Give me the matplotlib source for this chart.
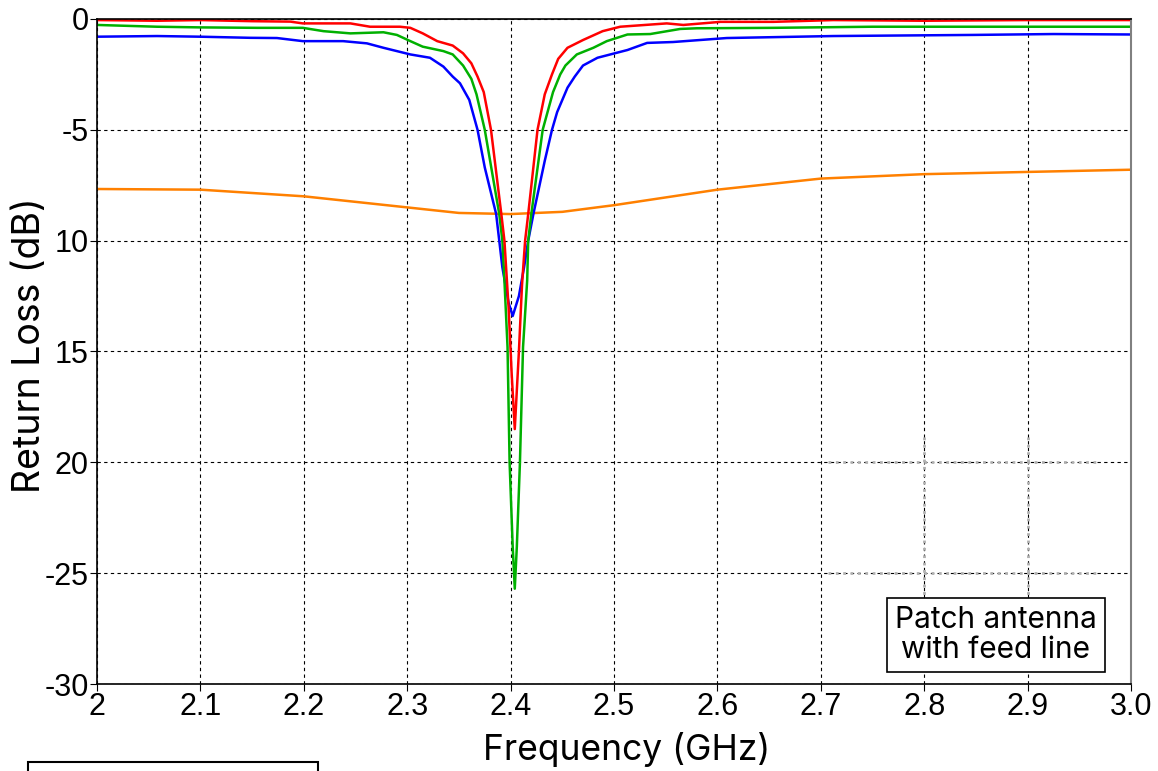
import matplotlib
matplotlib.use("Agg")
import matplotlib.pyplot as plt
from matplotlib.patches import Rectangle

plt.rcParams['font.family'] = ['Liberation Sans', 'DejaVu Sans']

# Return loss curves (GHz, dB)
red_f = [2.0, 2.058, 2.10, 2.15, 2.187, 2.199, 2.245, 2.264, 2.293, 2.303, 2.315, 2.329,
         2.344, 2.354, 2.362, 2.368, 2.374, 2.381, 2.391, 2.394, 2.398, 2.401, 2.404,
         2.408, 2.411, 2.414, 2.417, 2.426, 2.433, 2.440, 2.446, 2.455, 2.470, 2.489,
         2.506, 2.551, 2.567, 2.603, 2.654, 2.712, 2.8, 2.9, 3.0]
red_db = [-0.05, -0.08, -0.05, -0.1, -0.12, -0.2, -0.2, -0.35, -0.35, -0.4, -0.65, -1.0,
          -1.2, -1.55, -2.0, -2.6, -3.3, -5.0, -8.8, -10.0, -13.0, -16.0, -18.5,
          -15.0, -12.0, -10.0, -8.8, -5.0, -3.4, -2.5, -1.8, -1.3, -0.95, -0.55,
          -0.35, -0.2, -0.27, -0.13, -0.13, -0.05, -0.08, -0.05, -0.05]

green_f = [2.0, 2.058, 2.10, 2.155, 2.199, 2.219, 2.245, 2.277, 2.290, 2.303, 2.315, 2.335,
           2.344, 2.354, 2.362, 2.367, 2.375, 2.389, 2.392, 2.394, 2.397, 2.399, 2.402,
           2.404, 2.406, 2.409, 2.412, 2.416, 2.417, 2.420, 2.431, 2.441, 2.448, 2.453,
           2.464, 2.480, 2.493, 2.513, 2.535, 2.564, 2.580, 2.654, 2.750, 3.0]
green_db = [-0.27, -0.35, -0.38, -0.4, -0.4, -0.55, -0.65, -0.6, -0.72, -1.0, -1.25, -1.45,
            -1.6, -2.1, -2.7, -3.4, -5.0, -8.8, -10.0, -11.8, -14.8, -20.0, -23.8,
            -25.7, -23.8, -20.0, -14.8, -11.8, -10.0, -8.8, -5.0, -3.3, -2.5, -2.1,
            -1.6, -1.3, -1.0, -0.7, -0.68, -0.45, -0.42, -0.4, -0.35, -0.35]

blue_f = [2.0, 2.058, 2.10, 2.148, 2.174, 2.199, 2.238, 2.261, 2.277, 2.303, 2.322, 2.335,
          2.344, 2.351, 2.360, 2.368, 2.375, 2.386, 2.389, 2.392, 2.398, 2.402, 2.408,
          2.413, 2.417, 2.422, 2.433, 2.440, 2.445, 2.455, 2.462, 2.470, 2.484, 2.513,
          2.532, 2.557, 2.609, 2.712, 2.847, 2.925, 3.0]
blue_db = [-0.8, -0.77, -0.8, -0.85, -0.86, -1.0, -1.0, -1.1, -1.3, -1.6, -1.75, -2.15,
           -2.6, -2.9, -3.65, -5.0, -6.7, -8.8, -10.0, -11.2, -12.8, -13.4, -12.5,
           -11.2, -10.0, -8.8, -6.4, -5.0, -4.2, -3.1, -2.6, -2.1, -1.75, -1.4,
           -1.08, -1.04, -0.86, -0.77, -0.72, -0.68, -0.7]

orange_f = [2.0, 2.1, 2.2, 2.3, 2.35, 2.4, 2.45, 2.5, 2.6, 2.7, 2.8, 2.9, 3.0]
orange_db = [-7.67, -7.7, -8.0, -8.5, -8.75, -8.8, -8.7, -8.4, -7.7, -7.2, -7.0, -6.9, -6.8]

x_ticks = [2.0, 2.1, 2.2, 2.3, 2.4, 2.5, 2.6, 2.7, 2.8, 2.9, 3.0]
x_labels = ["2", "2.1", "2.2", "2.3", "2.4", "2.5", "2.6", "2.7", "2.8", "2.9", "3.0"]
y_ticks = [0, -5, -10, -15, -20, -25, -30]
y_labels = ["0", "-5", "10", "15", "20", "-25", "-30"]

fig = plt.figure(figsize=(11.58, 7.71), dpi=100)
ax = fig.add_axes([0.0838, 0.1128, 0.8929, 0.8626])

ax.plot(orange_f, orange_db, color="#ff8000", lw=1.8)
ax.plot(blue_f, blue_db, color="#0000ff", lw=1.8)
ax.plot(green_f, green_db, color="#00b000", lw=1.8)
ax.plot(red_f, red_db, color="#ff0000", lw=1.8)

ax.set_xlim(2.0, 3.0)
ax.set_ylim(-30, 0)
ax.set_xticks(x_ticks)
ax.set_xticklabels(x_labels)
ax.set_yticks(y_ticks)
ax.set_yticklabels(y_labels)
ax.tick_params(labelsize=22, direction="out", length=5, pad=1)
ax.grid(True, color="black", linestyle=(0, (3, 3)), lw=0.8)

# faint dotted grid remnant in the lower right
for yv in [-20, -25]:
    ax.plot([2.707, 2.97], [yv, yv], color="#b0b0b0", ls=":", lw=2)
for xv in [2.8, 2.9]:
    ax.plot([xv, xv], [-18.85, -26.0], color="#b0b0b0", ls=":", lw=2)

ax.spines["right"].set_color("#808080")
ax.spines["right"].set_linewidth(1.5)
for s in ["left", "bottom", "top"]:
    ax.spines[s].set_linewidth(1.2)

lab_font = ["Inter", "DejaVu Sans"]
ax.set_xlabel("Frequency (GHz)", fontsize=25.5, family=lab_font)
ax.set_ylabel("Return Loss (dB)", fontsize=27, family=lab_font)
ax.xaxis.set_label_coords(0.512, -0.072)
ax.yaxis.set_label_coords(-0.047, 0.51)

ax.text(0.869, 0.074, "Patch antenna\nwith feed line", transform=ax.transAxes,
        ha="center", va="center", fontsize=21.5, family=lab_font,
        linespacing=1.1,
        bbox=dict(boxstyle="square,pad=0.27", fc="white", ec="black", lw=1.2))

# partial box at the lower left edge
fig.patches.append(Rectangle((28 / 1158, -0.05), 290 / 1158, 0.05 + 9 / 771,
                             transform=fig.transFigure, fill=False, ec="black", lw=1.5))

fig.savefig("out.png", dpi=100)
